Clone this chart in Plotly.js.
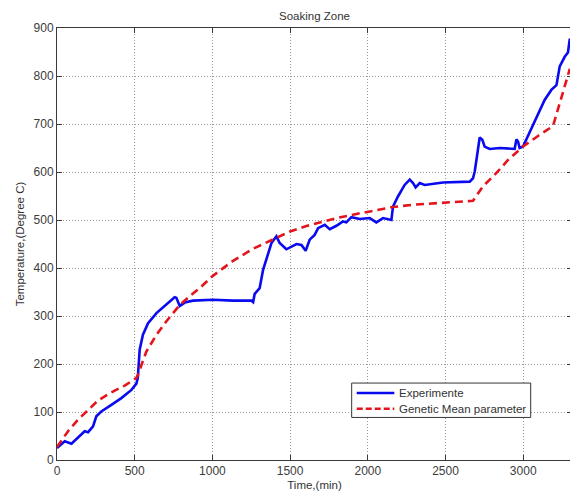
<!DOCTYPE html>
<html>
<head>
<meta charset="utf-8">
<script src="https://cdn.plot.ly/plotly-3.0.1.min.js"></script>
<style>
  html, body { margin: 0; padding: 0; background: #fff; overflow: hidden; }
  #chart { width: 572px; height: 491px; }
</style>
</head>
<body>
<div id="chart"></div>
<script>
// Measured furnace temperature (soaking zone), time in minutes
const expTime = [0, 50, 93, 135, 178, 200, 232, 253, 285, 350, 414, 479, 511, 520, 532, 553, 586, 640, 704, 757, 768, 790, 822, 875, 1004, 1133, 1251, 1262, 1272, 1304, 1326, 1347, 1380, 1412, 1433, 1476, 1541, 1573, 1600, 1626, 1658, 1680, 1723, 1755, 1798, 1840, 1862, 1894, 1948, 2012, 2044, 2055, 2098, 2152, 2162, 2194, 2237, 2270, 2291, 2308, 2334, 2366, 2484, 2656, 2677, 2688, 2699, 2709, 2720, 2737, 2752, 2784, 2849, 2945, 2956, 2967, 2977, 2999, 3042, 3085, 3138, 3181, 3214, 3235, 3267, 3288, 3300];
const expTemp = [25, 39, 34, 46, 60, 58, 70, 91, 101, 115, 129, 146, 159, 171, 230, 261, 285, 306, 323, 339, 338, 321, 328, 332, 334, 332, 332, 329, 346, 358, 396, 420, 452, 466, 452, 439, 450, 448, 436, 459, 469, 483, 490, 481, 488, 497, 495, 506, 502, 504, 497, 495, 504, 500, 528, 549, 573, 584, 577, 568, 577, 573, 578, 580, 587, 601, 625, 653, 672, 667, 653, 648, 650, 648, 668, 663, 650, 653, 684, 715, 750, 771, 781, 820, 840, 849, 878];

// Genetic mean-parameter model output
const modelTime = [0, 71, 135, 200, 264, 350, 436, 511, 520, 575, 640, 704, 790, 875, 918, 1000, 1133, 1261, 1412, 1500, 1600, 1700, 1800, 1950, 2055, 2162, 2300, 2463, 2677, 2741, 2828, 2902, 2999, 3100, 3192, 3235, 3288, 3300];
const modelTemp = [27, 60, 84, 105, 124, 141, 155, 171, 177, 226, 261, 289, 323, 347, 358, 383, 415, 440, 463, 476, 487, 496, 504, 514, 521, 527, 532, 536, 540, 570, 598, 625, 653, 676, 696, 743, 805, 815];

const seriesNames = ['Experimente', 'Genetic Mean parameter'];
const chartTitle = 'Soaking Zone';
const xTitle = 'Time,(min)';
const yTitle = 'Temperature,(Degree C)';

const font = 'Liberation Sans, Arial, Helvetica, sans-serif';
const blue = '#0a0af0';
const red = '#e5141c';
const plotDash = '8px,5px';

const traces = [
  {
    x: expTime, y: expTemp, name: seriesNames[0], type: 'scatter', mode: 'lines',
    line: { color: blue, width: 2.6 }
  },
  {
    x: modelTime, y: modelTemp, name: seriesNames[1], type: 'scatter', mode: 'lines',
    line: { color: red, width: 2.6, dash: plotDash }
  }
];

const axisCommon = {
  showline: true, linecolor: '#3a3a3a', linewidth: 1, mirror: 'ticks',
  ticks: 'inside', ticklen: 5, tickcolor: '#3a3a3a', tickwidth: 1,
  showgrid: true, gridcolor: '#9a9a9a', gridwidth: 1, griddash: '1px,2px',
  zeroline: false,
  tickfont: { family: font, size: 12, color: '#3c3c3c' }
};

// Legend box in the lower right of the axes (paper coordinates)
const box = { x0: 0.5722, x1: 0.9198, y0: 0.0985, y1: 0.1781 };
const sampleX = [0.582, 0.655];
const rowY = [0.155, 0.1187];
const textX = 0.660;

const shapes = [
  { type: 'rect', xref: 'paper', yref: 'paper', layer: 'above',
    x0: box.x0, x1: box.x1, y0: box.y0, y1: box.y1,
    fillcolor: '#ffffff', line: { color: '#333', width: 1 } },
  { type: 'line', xref: 'paper', yref: 'paper', layer: 'above',
    x0: sampleX[0], x1: sampleX[1], y0: rowY[0], y1: rowY[0],
    line: { color: blue, width: 2.6 } },
  { type: 'line', xref: 'paper', yref: 'paper', layer: 'above',
    x0: sampleX[0], x1: sampleX[1], y0: rowY[1], y1: rowY[1],
    line: { color: red, width: 2.6, dash: '6px,3px' } }
];

const annotations = seriesNames.map((name, i) => ({
  text: name, xref: 'paper', yref: 'paper', x: textX, y: rowY[i],
  xanchor: 'left', yanchor: 'middle', showarrow: false,
  font: { family: font, size: 11.5, color: '#333' }
}));

const layout = {
  width: 572, height: 491,
  margin: { l: 57, r: 0, t: 28, b: 31 },
  paper_bgcolor: '#ffffff', plot_bgcolor: '#ffffff',
  showlegend: false,
  font: { family: font, size: 11.5, color: '#333' },
  title: {
    text: chartTitle, font: { family: font, size: 11.5, color: '#333' },
    x: 0.5, xref: 'paper', xanchor: 'center',
    y: 1 - 16 / 491, yref: 'container', yanchor: 'middle'
  },
  xaxis: Object.assign({}, axisCommon, {
    range: [0, 3314], dtick: 500, tick0: 0,
    title: { text: xTitle, font: { family: font, size: 11.5, color: '#333' }, standoff: 5 }
  }),
  yaxis: Object.assign({}, axisCommon, {
    range: [0, 900], dtick: 100, tick0: 0,
    title: { text: yTitle, font: { family: font, size: 11.5, color: '#333' }, standoff: 6 }
  }),
  shapes: shapes,
  annotations: annotations
};

Plotly.newPlot('chart', traces, layout, { staticPlot: true, displayModeBar: false });
</script>
</body>
</html>
